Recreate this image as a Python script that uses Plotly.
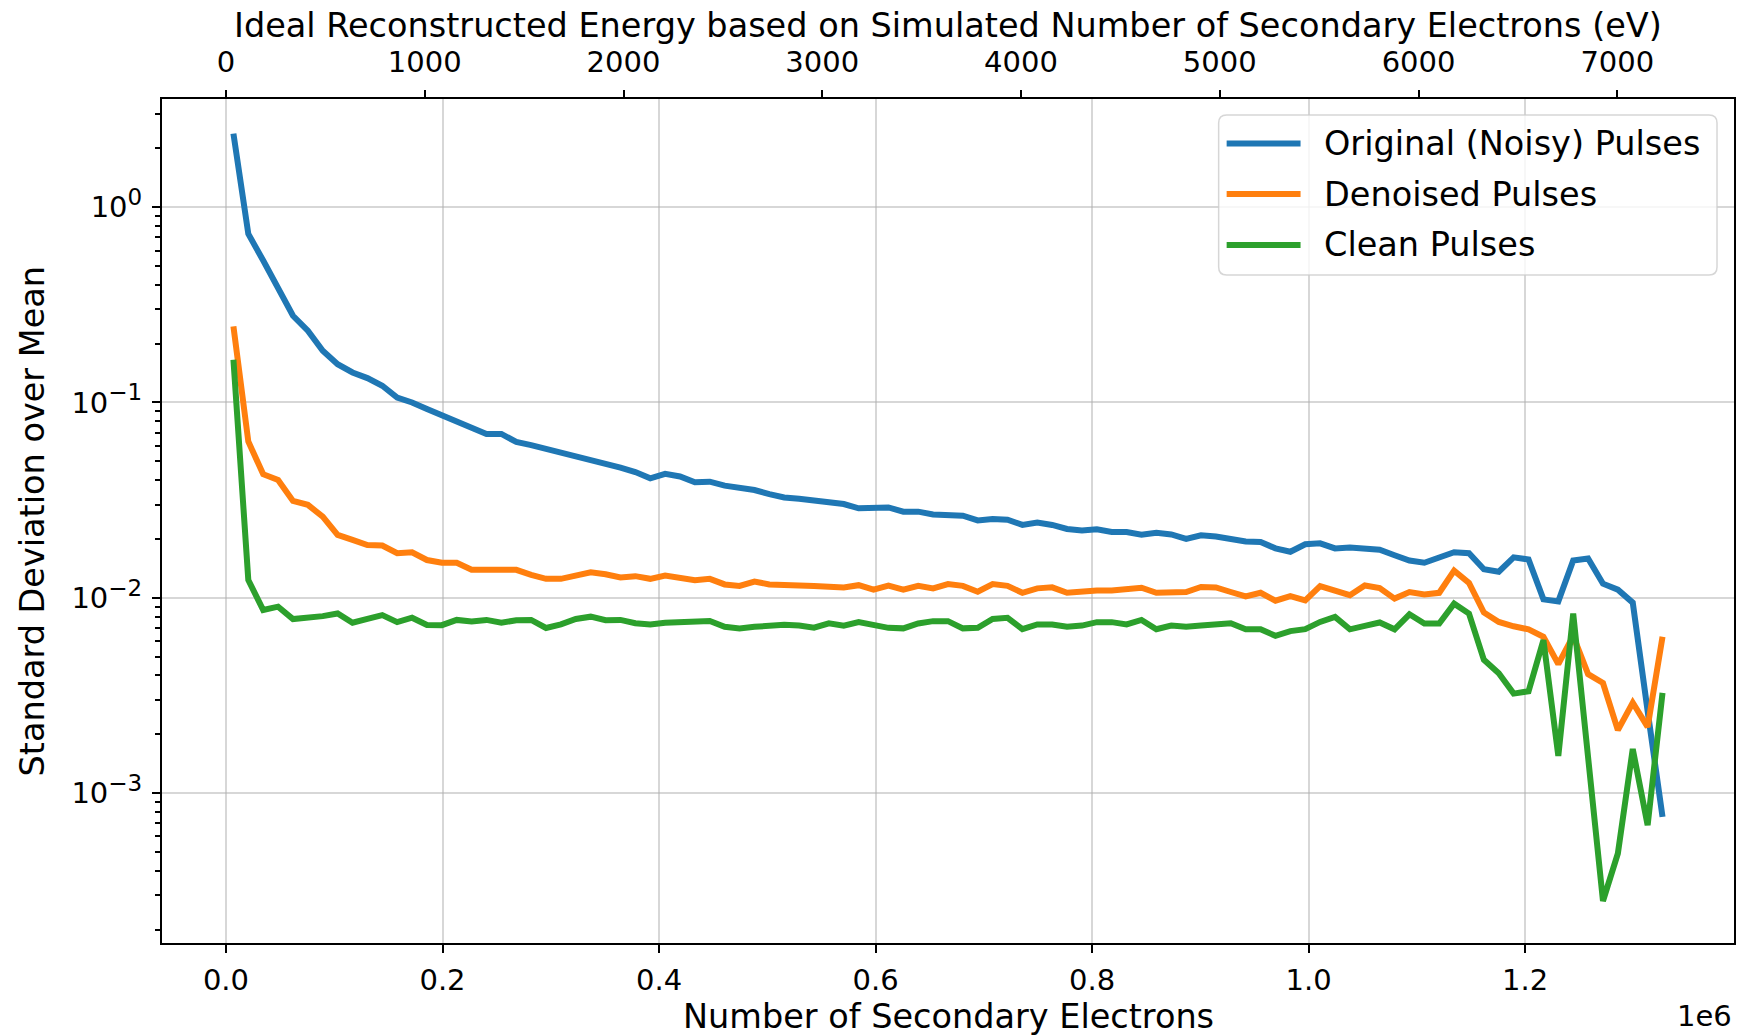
import plotly.graph_objects as go

# ---------------- data ----------------
electrons = [6875, 20625, 34375, 48125, 61875, 75625, 89375, 103125, 116875, 130625,
             144375, 158125, 171875, 185625, 199375, 213125, 226875, 240625, 254375, 268125,
             281875, 295625, 309375, 323125, 336875, 350625, 364375, 378125, 391875, 405625,
             419375, 433125, 446875, 460625, 474375, 488125, 501875, 515625, 529375, 543125,
             556875, 570625, 584375, 598125, 611875, 625625, 639375, 653125, 666875, 680625,
             694375, 708125, 721875, 735625, 749375, 763125, 776875, 790625, 804375, 818125,
             831875, 845625, 859375, 873125, 886875, 900625, 914375, 928125, 941875, 955625,
             969375, 983125, 996875, 1010625, 1024375, 1038125, 1051875, 1065625, 1079375, 1093125,
             1106875, 1120625, 1134375, 1148125, 1161875, 1175625, 1189375, 1203125, 1216875, 1230625,
             1244375, 1258125, 1271875, 1285625, 1299375, 1313125, 1326875]

noisy = [2.38, 0.730, 0.533, 0.389, 0.278, 0.233, 0.184, 0.157, 0.1425, 0.1333,
         0.1218, 0.106, 0.100, 0.0925, 0.0860, 0.0805, 0.0740, 0.0689, 0.0690, 0.0628,
         0.0605, 0.0580, 0.0550, 0.0532, 0.0505, 0.0482, 0.0464, 0.0440, 0.0409, 0.0431,
         0.0418, 0.0390, 0.0393, 0.0375, 0.0368, 0.0356, 0.0339, 0.0326, 0.0321, 0.0313,
         0.0305, 0.0302, 0.0287, 0.0290, 0.0290, 0.0276, 0.0276, 0.0267, 0.0265, 0.0263,
         0.0249, 0.0253, 0.0251, 0.0236, 0.0243, 0.0236, 0.0225, 0.0221, 0.0224, 0.0217,
         0.0217, 0.0210, 0.0215, 0.0211, 0.0200, 0.0209, 0.0206, 0.0200, 0.0194, 0.0193,
         0.0179, 0.0172, 0.0188, 0.0190, 0.0179, 0.0181, 0.0177, 0.0176, 0.0165, 0.0155,
         0.0151, 0.0161, 0.0171, 0.0169, 0.0140, 0.0136, 0.0161, 0.0157, 0.00981, 0.00958,
         0.0155, 0.0159, 0.0118, 0.0110, 0.00944, 0.00263, 0.000755]

denoised = [0.245, 0.0631, 0.0429, 0.0401, 0.0313, 0.0299, 0.0260, 0.0210, 0.0198, 0.0186,
            0.0185, 0.0169, 0.0171, 0.0156, 0.0151, 0.0151, 0.0139, 0.0139, 0.0140, 0.0139,
            0.0131, 0.0125, 0.0125, 0.0129, 0.0135, 0.0132, 0.0127, 0.0129, 0.0125, 0.0130,
            0.0127, 0.0123, 0.0125, 0.0117, 0.0115, 0.0121, 0.0117, 0.0117, 0.0116, 0.0115,
            0.0114, 0.0113, 0.0116, 0.0110, 0.01153, 0.0110, 0.0115, 0.01117, 0.01175, 0.0115,
            0.01074, 0.01175, 0.0115, 0.0106, 0.01117, 0.0113, 0.0106, 0.0108, 0.0109, 0.0109,
            0.0110, 0.01125, 0.0106, 0.0106, 0.0107, 0.01135, 0.0113, 0.0107, 0.01016, 0.0106,
            0.00966, 0.0102, 0.0097, 0.01146, 0.0109, 0.0103, 0.01155, 0.0112, 0.0099, 0.0107,
            0.0104, 0.0106, 0.01376, 0.0119, 0.0084, 0.00752, 0.00714, 0.00689, 0.00631, 0.00457,
            0.00638, 0.00406, 0.00366, 0.00210, 0.0029, 0.00218, 0.00631]

clean = [0.1655, 0.01233, 0.00865, 0.0090, 0.00778, 0.00789, 0.00805, 0.00831, 0.00745, 0.0078,
         0.00815, 0.0075, 0.0079, 0.00725, 0.00724, 0.00770, 0.00755, 0.00770, 0.00745, 0.00767,
         0.0077, 0.00700, 0.0073, 0.00778, 0.0080, 0.00767, 0.0077, 0.0074, 0.0073, 0.00745,
         0.0075, 0.0076, 0.0076, 0.0071, 0.00697, 0.0071, 0.00724, 0.00727, 0.0072, 0.00703,
         0.0074, 0.0072, 0.0075, 0.0072, 0.00701, 0.00697, 0.00738, 0.00759, 0.00759, 0.00697,
         0.00701, 0.00778, 0.00789, 0.0069, 0.0073, 0.0073, 0.0071, 0.0072, 0.0075, 0.0075,
         0.0073, 0.0077, 0.0069, 0.0072, 0.0071, 0.0072, 0.0073, 0.0074, 0.0069, 0.0069,
         0.00638, 0.00675, 0.0069, 0.00752, 0.00797, 0.00689, 0.00718, 0.00747, 0.00689, 0.00823,
         0.00738, 0.00738, 0.00933, 0.0083, 0.00481, 0.00411, 0.00323, 0.00332, 0.00607, 0.00155,
         0.0083, 0.00165, 0.00028, 0.00049, 0.00168, 0.000685, 0.00326]

series_names = ["Original (Noisy) Pulses", "Denoised Pulses", "Clean Pulses"]
series_colors = ["#1f77b4", "#ff7f0e", "#2ca02c"]

x_tickvals = [0, 200000, 400000, 600000, 800000, 1000000, 1200000]
x_ticktext = ["0.0", "0.2", "0.4", "0.6", "0.8", "1.0", "1.2"]
energy_tickvals = [0, 1000, 2000, 3000, 4000, 5000, 6000, 7000]
energy_ticktext = ["0", "1000", "2000", "3000", "4000", "5000", "6000", "7000"]
y_tickvals = [1e-3, 1e-2, 1e-1, 1]
y_exponents = ["\u22123", "\u22122", "\u22121", "0"]

EV_PER_ELECTRON = 0.005447  # scale of the top axis

# ---------------- layout constants ----------------
W, H = 1743, 1036
L, R, T, B = 162, 1736, 99, 943
PW, PH = R - L, B - T
FONT = "DejaVu Sans"
LABEL_SIZE = 33.5
TICK_SIZE = 29
SUP_SIZE = 23
LINE_W = 6

x_range = [-59100, 1392900]
y_range = [-3.768, 0.554]

y_ticktext = [f"10<sup><span style='font-size:{SUP_SIZE}px'>{e}</span></sup>" for e in y_exponents]

def px(xp):
    return (xp - L) / PW

def py(yp):
    return (B - yp) / PH

fig = go.Figure()
for name, color, vals in zip(series_names, series_colors, [noisy, denoised, clean]):
    fig.add_trace(go.Scatter(x=electrons, y=vals, mode="lines", name=name,
                             line=dict(color=color, width=LINE_W), showlegend=False))

# invisible trace that carries the top (energy) axis
fig.add_trace(go.Scatter(x=[e * EV_PER_ELECTRON for e in electrons], y=noisy, xaxis="x2",
                         mode="lines", opacity=0, hoverinfo="skip", showlegend=False,
                         line=dict(width=0)))

minor_vals = []
for dec in [1e-4, 1e-3, 1e-2, 1e-1, 1]:
    for m in range(2, 10):
        minor_vals.append(m * dec)

grid_col = "rgba(176,176,176,0.5)"

fig.update_layout(
    width=W, height=H,
    margin=dict(l=L, r=W - R, t=T, b=H - B, pad=0),
    plot_bgcolor="white", paper_bgcolor="white",
    font=dict(family=FONT, color="black", size=TICK_SIZE),
    showlegend=False,
    xaxis=dict(range=x_range, tickmode="array", tickvals=x_tickvals, ticktext=x_ticktext,
               ticks="outside", ticklen=8, tickwidth=2, tickcolor="black",
               showline=True, linecolor="black", linewidth=2, mirror=True,
               showgrid=True, gridcolor=grid_col, gridwidth=2, zeroline=False,
               tickfont=dict(size=TICK_SIZE, family=FONT), ticklabelstandoff=2),
    xaxis2=dict(overlaying="x", side="top",
                range=[x_range[0] * EV_PER_ELECTRON, x_range[1] * EV_PER_ELECTRON],
                tickmode="array", tickvals=energy_tickvals, ticktext=energy_ticktext,
                ticks="outside", ticklen=8, tickwidth=2, tickcolor="black",
                showline=False, showgrid=False, zeroline=False,
                tickfont=dict(size=TICK_SIZE, family=FONT), ticklabelstandoff=6),
    yaxis=dict(type="log", range=y_range, tickmode="array", tickvals=y_tickvals,
               ticktext=y_ticktext, ticks="outside", ticklen=8, tickwidth=2, tickcolor="black",
               showline=True, linecolor="black", linewidth=2, mirror=True,
               showgrid=True, gridcolor=grid_col, gridwidth=2, zeroline=False,
               tickfont=dict(size=TICK_SIZE, family=FONT), ticklabelstandoff=4,
               minor=dict(tickmode="array", tickvals=minor_vals, ticks="outside", ticklen=5,
                          tickwidth=1.5, tickcolor="black", showgrid=False)),
)

annotations = [
    dict(text="Ideal Reconstructed Energy based on Simulated Number of Secondary Electrons (eV)",
         xref="paper", yref="paper", x=0.5, y=1, xanchor="center", yanchor="middle",
         yshift=T - 25.5, showarrow=False, font=dict(size=LABEL_SIZE, family=FONT)),
    dict(text="Number of Secondary Electrons", xref="paper", yref="paper", x=0.5, y=0,
         xanchor="center", yanchor="middle", yshift=-(1016 - B), showarrow=False,
         font=dict(size=LABEL_SIZE, family=FONT)),
    dict(text="1e6", xref="paper", yref="paper", x=1, y=0, xanchor="right", yanchor="middle",
         yshift=-(1016 - B), showarrow=False, font=dict(size=TICK_SIZE, family=FONT)),
    dict(text="Standard Deviation over Mean", xref="paper", yref="paper", x=0, y=0.5,
         xanchor="center", yanchor="middle", xshift=31.5 - L, textangle=-90, showarrow=False,
         font=dict(size=LABEL_SIZE, family=FONT)),
]

# ---------------- legend (matplotlib-style box) ----------------
bx0, bx1, by0, by1 = px(1220), px(1719), py(115), py(275)
rx, ry = 8 / PW, 8 / PH
box_path = (f"M {bx0 + rx},{by0} L {bx1 - rx},{by0} Q {bx1},{by0} {bx1},{by0 - ry} "
            f"L {bx1},{by1 + ry} Q {bx1},{by1} {bx1 - rx},{by1} "
            f"L {bx0 + rx},{by1} Q {bx0},{by1} {bx0},{by1 + ry} "
            f"L {bx0},{by0 - ry} Q {bx0},{by0} {bx0 + rx},{by0} Z")
shapes = [dict(type="path", path=box_path, xref="paper", yref="paper",
               fillcolor="rgba(255,255,255,0.8)", line=dict(color="rgba(204,204,204,0.8)", width=1.5),
               layer="above")]
row_y = [143.5, 194, 245]
for name, color, ry_px in zip(series_names, series_colors, row_y):
    shapes.append(dict(type="line", xref="paper", yref="paper", x0=px(1228), x1=px(1302),
                       y0=py(ry_px), y1=py(ry_px), line=dict(color=color, width=LINE_W),
                       layer="above"))
    annotations.append(dict(text=name, xref="paper", yref="paper", x=px(1323), y=py(ry_px),
                            xanchor="left", yanchor="middle", showarrow=False,
                            font=dict(size=LABEL_SIZE, family=FONT)))

fig.update_layout(annotations=annotations, shapes=shapes)
fig.write_html("out.html", config={"displayModeBar": False},
               post_script="document.body.style.margin='0';document.body.style.overflow='hidden';")
